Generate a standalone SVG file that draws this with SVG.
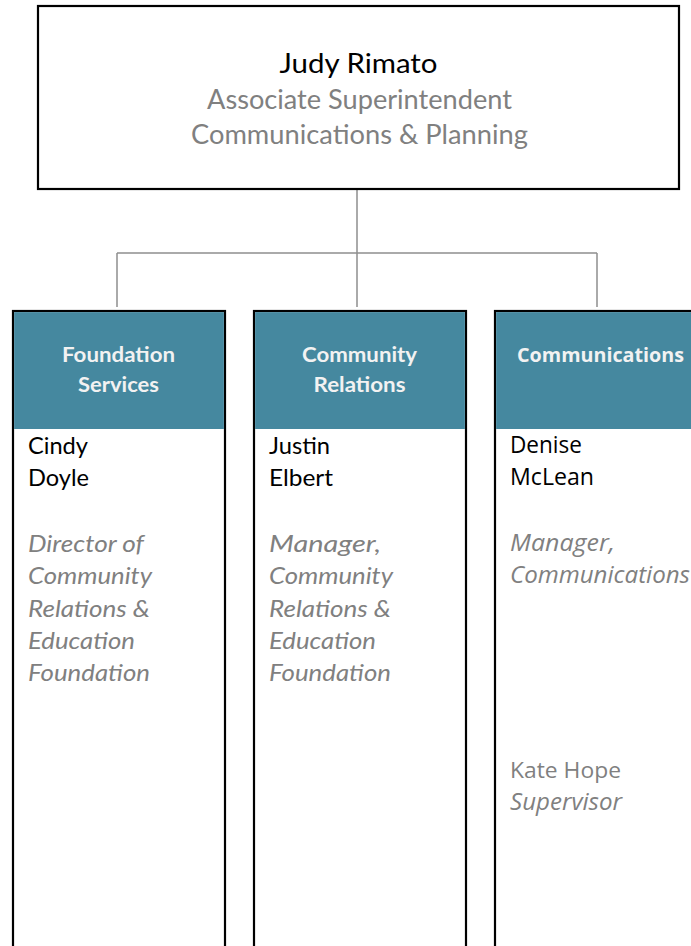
<svg xmlns="http://www.w3.org/2000/svg" width="691" height="946" viewBox="0 0 691 946">
<style>
.box{fill:#fff;stroke:#000;stroke-width:2.2}
.hdr{fill:#45889F}
.conn{stroke:#8f8f8f;stroke-width:1.5;fill:none}
.cal{font-family:Lato,"Liberation Sans",sans-serif}
.os{font-family:"Open Sans","Liberation Sans",sans-serif}
.ht{font-weight:bold;font-size:20px;fill:#f2f2f2;text-anchor:middle}
.nm{font-size:23px;fill:#000}
.ti{font-size:23px;fill:#808080;font-style:italic}
.gr{fill:#808080}
</style>
<rect width="691" height="946" fill="#fff"/>
<g id="connectors">
<path class="conn" d="M357 189V253M117 253H597M117 253V307M357 253V307M597 253V307"/>
</g>
<g id="top">
<rect class="box" x="38" y="6" width="641" height="183"/>
<text class="cal" x="358.5" y="73" font-size="27" fill="#000" text-anchor="middle" textLength="158" lengthAdjust="spacingAndGlyphs">Judy Rimato</text>
<text class="cal gr" x="359.5" y="109" font-size="27" text-anchor="middle" textLength="305" lengthAdjust="spacingAndGlyphs">Associate Superintendent</text>
<text class="cal gr" x="359.5" y="144" font-size="27" text-anchor="middle" textLength="337" lengthAdjust="spacingAndGlyphs">Communications &amp; Planning</text>
</g>
<g id="foundation">
<rect class="box" x="13" y="311" width="212" height="650"/>
<rect class="hdr" x="14.1" y="312.1" width="209.8" height="116.9"/>
<text class="cal ht" x="118.5" y="362" textLength="113" lengthAdjust="spacingAndGlyphs">Foundation</text>
<text class="cal ht" x="118.5" y="392" textLength="81" lengthAdjust="spacingAndGlyphs">Services</text>
<text class="cal nm" x="28" y="454" textLength="60" lengthAdjust="spacingAndGlyphs">Cindy</text>
<text class="cal nm" x="28" y="486" textLength="61" lengthAdjust="spacingAndGlyphs">Doyle</text>
<text class="cal ti" x="28" y="552" textLength="116" lengthAdjust="spacingAndGlyphs">Director of</text>
<text class="cal ti" x="28" y="584" textLength="124" lengthAdjust="spacingAndGlyphs">Community</text>
<text class="cal ti" x="28" y="617" textLength="122" lengthAdjust="spacingAndGlyphs">Relations &amp;</text>
<text class="cal ti" x="28" y="649" textLength="107" lengthAdjust="spacingAndGlyphs">Education</text>
<text class="cal ti" x="28" y="681" textLength="122" lengthAdjust="spacingAndGlyphs">Foundation</text>
</g>
<g id="community-relations">
<rect class="box" x="254" y="311" width="212" height="650"/>
<rect class="hdr" x="255.1" y="312.1" width="209.8" height="116.9"/>
<text class="cal ht" x="359.5" y="362" textLength="115" lengthAdjust="spacingAndGlyphs">Community</text>
<text class="cal ht" x="359.5" y="392" textLength="92" lengthAdjust="spacingAndGlyphs">Relations</text>
<text class="cal nm" x="269" y="454" textLength="61" lengthAdjust="spacingAndGlyphs">Justin</text>
<text class="cal nm" x="269" y="486" textLength="64" lengthAdjust="spacingAndGlyphs">Elbert</text>
<text class="cal ti" x="269" y="552" textLength="112" lengthAdjust="spacingAndGlyphs">Manager,</text>
<text class="cal ti" x="269" y="584" textLength="124" lengthAdjust="spacingAndGlyphs">Community</text>
<text class="cal ti" x="269" y="617" textLength="122" lengthAdjust="spacingAndGlyphs">Relations &amp;</text>
<text class="cal ti" x="269" y="649" textLength="107" lengthAdjust="spacingAndGlyphs">Education</text>
<text class="cal ti" x="269" y="681" textLength="122" lengthAdjust="spacingAndGlyphs">Foundation</text>
</g>
<g id="communications">
<rect class="box" x="495" y="311" width="212" height="650"/>
<rect class="hdr" x="496.1" y="312.1" width="209.8" height="116.9"/>
<text class="os ht" x="600.5" y="362" font-size="19" textLength="167" lengthAdjust="spacingAndGlyphs">Communications</text>
<text class="os nm" x="510" y="453" font-size="21" textLength="72" lengthAdjust="spacingAndGlyphs">Denise</text>
<text class="os nm" x="510" y="485" font-size="21" textLength="84" lengthAdjust="spacingAndGlyphs">McLean</text>
<text class="os ti" x="510" y="551" font-size="21" textLength="105" lengthAdjust="spacingAndGlyphs">Manager,</text>
<text class="os ti" x="510" y="583" font-size="21" textLength="180" lengthAdjust="spacingAndGlyphs">Communications</text>
<text class="os gr" x="510" y="778" font-size="21" textLength="111" lengthAdjust="spacingAndGlyphs">Kate Hope</text>
<text class="os ti" x="510" y="810" font-size="21" textLength="112" lengthAdjust="spacingAndGlyphs">Supervisor</text>
</g>
</svg>
